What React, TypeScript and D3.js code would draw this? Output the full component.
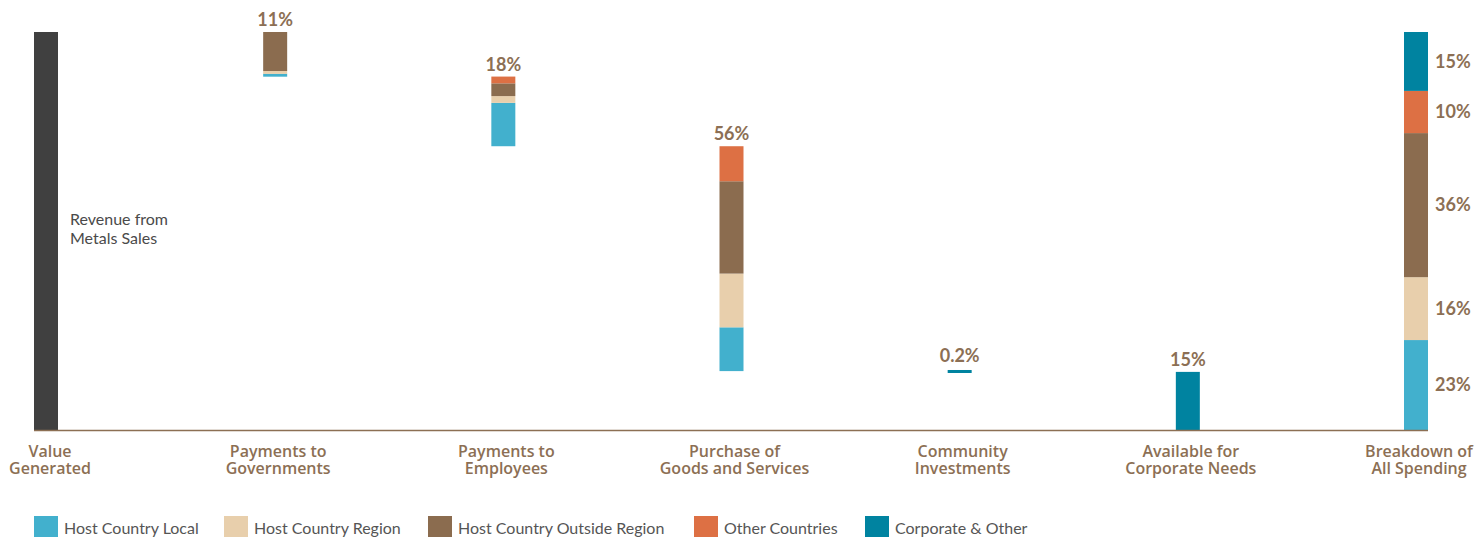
//@ts-nocheck
import React, { useRef, useEffect } from 'react'
import * as d3 from 'd3'

const categoryLines = [
  ['Value', 'Generated'],
  ['Payments to', 'Governments'],
  ['Payments to', 'Employees'],
  ['Purchase of', 'Goods and Services'],
  ['Community', 'Investments'],
  ['Available for', 'Corporate Needs'],
  ['Breakdown of', 'All Spending']
]
const categories = categoryLines.map((l) => l.join(' '))

const seriesNames = ['Host Country Local', 'Host Country Region', 'Host Country Outside Region', 'Other Countries', 'Corporate & Other']
const seriesColors = ['#42b0cd', '#e8cfac', '#8b6c4f', '#dd7044', '#0083a0']

// percent of value generated, per category (index 0 = Value Generated)
const hostLocal = [0, 0.7, 10.9, 11.0, 0, 0, 22.6]
const hostRegion = [0, 0.7, 1.7, 13.5, 0, 0, 15.8]
const outsideRegion = [0, 9.8, 3.2, 23.2, 0, 0, 36.2]
const otherCountries = [0, 0, 1.7, 8.8, 0, 0, 10.6]
const corporate = [0, 0, 0, 0, 0.2, 14.6, 14.8]
const valueGenerated = 100

const topLabels = ['', '11%', '18%', '56%', '0.2%', '15%', '']
const breakdownLabels = ['23%', '16%', '36%', '10%', '15%']

const W = 1476
const H = 537
const labelColor = '#8c6f54'
const font = 'Lato, "Open Sans", sans-serif'

export default function App() {
  const node = useRef(null)

  useEffect(() => {
    const svg = d3.select(node.current)
    svg.selectAll('*').remove()

    const baseY = 430
    const y = d3.scaleLinear().domain([0, 100]).range([baseY, 32])
    const x = d3.scalePoint().domain(categories).range([47, 1416])
    const barW = 24

    const series = [hostLocal, hostRegion, outsideRegion, otherCountries, corporate]

    // value generated bar
    svg
      .append('rect')
      .attr('x', 34)
      .attr('y', y(valueGenerated))
      .attr('width', barW)
      .attr('height', y(0) - y(valueGenerated))
      .attr('fill', '#404040')

    svg
      .append('text')
      .attr('x', 70)
      .attr('y', 225)
      .attr('font-family', font)
      .attr('font-size', 16)
      .attr('fill', '#4a4a4a')
      .selectAll('tspan')
      .data(['Revenue from', 'Metals Sales'])
      .join('tspan')
      .attr('x', 70)
      .attr('dy', (d, i) => (i === 0 ? 0 : 18.5))
      .text((d) => d)

    // waterfall
    let remaining = valueGenerated
    for (let i = 1; i < categories.length; i++) {
      const total = d3.sum(series, (s) => s[i])
      const isBreakdown = i === categories.length - 1
      const base = isBreakdown ? 0 : remaining - total
      if (!isBreakdown) remaining -= total
      const cx = x(categories[i])
      let acc = base
      const mids = []
      series.forEach((s, k) => {
        const v = s[i]
        if (!v) {
          mids.push(null)
          return
        }
        let y0 = y(acc + v)
        let h = y(acc) - y(acc + v)
        if (h < 3) {
          y0 -= (3 - h) / 2
          h = 3
        }
        svg
          .append('rect')
          .attr('x', cx - barW / 2)
          .attr('y', y0)
          .attr('width', barW)
          .attr('height', h)
          .attr('fill', seriesColors[k])
        mids.push(y(acc + v / 2))
        acc += v
      })
      if (topLabels[i]) {
        const top = y(base + total) - (total < 1 ? 3 : 0)
        svg
          .append('text')
          .attr('x', cx)
          .attr('y', top - 6)
          .attr('text-anchor', 'middle')
          .attr('font-family', font)
          .attr('font-weight', 'bold')
          .attr('font-size', 18)
          .attr('fill', labelColor)
          .text(topLabels[i])
      }
      if (isBreakdown) {
        mids.forEach((m, k) => {
          svg
            .append('text')
            .attr('x', cx + barW / 2 + 7)
            .attr('y', m)
            .attr('dy', '0.35em')
            .attr('font-family', font)
            .attr('font-weight', 'bold')
            .attr('font-size', 18)
            .attr('fill', labelColor)
            .text(breakdownLabels[k])
        })
      }
    }

    // baseline
    svg
      .append('line')
      .attr('x1', 34)
      .attr('x2', x(categories[categories.length - 1]) + barW / 2)
      .attr('y1', baseY + 0.5)
      .attr('y2', baseY + 0.5)
      .attr('stroke', '#8c6f54')
      .attr('stroke-width', 1.5)

    // category labels
    categoryLines.forEach((lines, i) => {
      svg
        .append('text')
        .attr('text-anchor', 'middle')
        .attr('font-family', '"Open Sans", Lato, sans-serif')
        .attr('font-weight', 600)
        .attr('font-size', 16)
        .attr('fill', labelColor)
        .selectAll('tspan')
        .data(lines)
        .join('tspan')
        .attr('x', x(categories[i]) + 3)
        .attr('y', (d, j) => 457 + j * 17)
        .text((d) => d)
    })

    // legend
    const legendX = [34, 224, 428, 694, 865]
    seriesNames.forEach((name, k) => {
      svg
        .append('rect')
        .attr('x', legendX[k])
        .attr('y', 516)
        .attr('width', 24)
        .attr('height', 24)
        .attr('fill', seriesColors[k])
      svg
        .append('text')
        .attr('x', legendX[k] + 30)
        .attr('y', 534)
        .attr('font-family', font)
        .attr('font-size', 16)
        .attr('fill', '#555')
        .text(name)
    })
  }, [])

  return <svg ref={node} width={W} height={H} style={{ position: 'absolute', left: 0, top: 0 }}></svg>
}
